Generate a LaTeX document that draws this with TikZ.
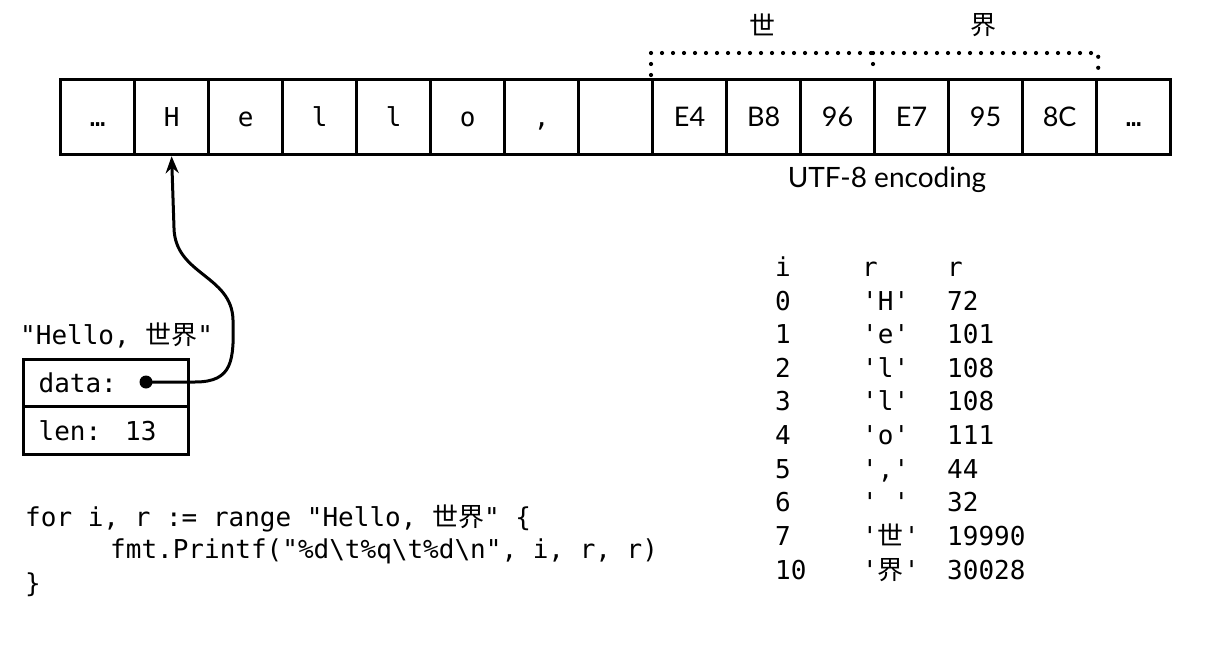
\documentclass[tikz,border=0pt]{standalone}
\usepackage{fontspec}
\setmainfont{Lato}
\newfontfamily\codefont{DejaVu Sans Mono}
\newfontfamily\cjk{Noto Sans CJK SC}
\usetikzlibrary{arrows.meta}
\begin{document}
\begin{tikzpicture}[x=1pt,y=-1pt,
  cell/.style={draw, line width=3.2pt, minimum width=74pt, minimum height=75pt,
    inner sep=0pt, anchor=north west, text height=19pt, text depth=0pt,
    font=\fontsize{27}{30}\selectfont},
  mcell/.style={cell, font=\codefont\fontsize{26}{30}\selectfont},
  code/.style={inner sep=0pt, anchor=west, text height=19pt, text depth=0pt,
    font=\codefont\fontsize{26}{30}\selectfont},
  field/.style={draw, line width=3.2pt, anchor=north west, minimum width=165pt,
    minimum height=47pt, text width=135pt, inner xsep=15pt, inner ysep=0pt,
    align=left, text height=19pt, text depth=0pt,
    font=\codefont\fontsize{26}{30}\selectfont},
  dotbr/.style={line width=4.2pt, line cap=round, dash pattern=on 0pt off 11pt},
  conn/.style={line width=3pt, -{Stealth[length=17pt,width=13pt]}},
  sans/.style={inner sep=0pt, text height=19pt, text depth=0pt,
    font=\fontsize{28}{30}\selectfont},
  han/.style={inner sep=0pt, font=\cjk\fontsize{26}{30}\selectfont}
]
\useasboundingbox (0,0) rectangle (1212,650);

% memory cells
\node[mcell] (c0)  at (59,78)   {…};
\node[mcell] (c1)  at (133,78)  {H};
\node[mcell] (c2)  at (207,78)  {e};
\node[mcell] (c3)  at (281,78)  {l};
\node[mcell] (c4)  at (355,78)  {l};
\node[mcell] (c5)  at (429,78)  {o};
\node[mcell] (c6)  at (503,78)  {,};
\node[mcell] (c7)  at (577,78)  {};
\node[cell]  (c8)  at (651,78)  {E4};
\node[cell]  (c9)  at (725,78)  {B8};
\node[cell]  (c10) at (799,78)  {96};
\node[cell]  (c11) at (873,78)  {E7};
\node[cell]  (c12) at (947,78)  {95};
\node[cell]  (c13) at (1021,78) {8C};
\node[mcell] (c14) at (1095,78) {…};

% dotted bracket over the UTF-8 bytes
\draw[dotbr] ([yshift=3pt]c8.north west) -- ([yshift=25pt]c8.north west)
  -- ([yshift=25pt]c13.north east) -- ([yshift=9pt]c13.north east);
\draw[dotbr] ([yshift=25pt]c11.north west) -- ([yshift=14pt]c11.north west);
\node[han] (shi) at (762,25) {世};
\node[han] (jie) at (983,25) {界};
\node[sans] (utf) at (887,178) {UTF-8 encoding};

% string header
\node[code] (lbl) at (20,335) {"Hello, {\cjk 世界}"};
\node[field] (data) at (22,358) {data:};
\node[field, minimum height=48pt] (len) at (22,405) {len:\hspace{24pt}13};
\node[circle, fill, inner sep=0pt, minimum size=13pt] (dot) at (146,382) {};
\draw[conn] (dot.center) -- (195,382)
  .. controls (233,382) and (234,360) .. (233,320)
  .. controls (232,275) and (175,275) .. (174,228) -- (c1.south);

% code
\node[code] (l1) at (25,517) {for i, r := range "Hello, {\cjk 世界}" \{};
\node[code] (l2) at (110,549) {fmt.Printf("\%d\textbackslash t\%q\textbackslash t\%d\textbackslash n", i, r, r)};
\node[code] (l3) at (25,583) {\}};

% output table
\node[code] (t0a) at (775,267) {i};   \node[code] (t0b) at (862,267) {r};      \node[code] (t0c) at (947,267) {r};
\node[code] (t1a) at (775,301) {0};   \node[code] (t1b) at (862,301) {'H'};    \node[code] (t1c) at (947,301) {72};
\node[code] (t2a) at (775,334) {1};   \node[code] (t2b) at (862,334) {'e'};    \node[code] (t2c) at (947,334) {101};
\node[code] (t3a) at (775,368) {2};   \node[code] (t3b) at (862,368) {'l'};    \node[code] (t3c) at (947,368) {108};
\node[code] (t4a) at (775,401) {3};   \node[code] (t4b) at (862,401) {'l'};    \node[code] (t4c) at (947,401) {108};
\node[code] (t5a) at (775,435) {4};   \node[code] (t5b) at (862,435) {'o'};    \node[code] (t5c) at (947,435) {111};
\node[code] (t6a) at (775,469) {5};   \node[code] (t6b) at (862,469) {','};    \node[code] (t6c) at (947,469) {44};
\node[code] (t7a) at (775,502) {6};   \node[code] (t7b) at (862,502) {'~'};    \node[code] (t7c) at (947,502) {32};
\node[code] (t8a) at (775,536) {7};   \node[code] (t8b) at (862,536) {'{\cjk 世}'}; \node[code] (t8c) at (947,536) {19990};
\node[code] (t9a) at (775,570) {10};  \node[code] (t9b) at (862,570) {'{\cjk 界}'}; \node[code] (t9c) at (947,570) {30028};
\end{tikzpicture}
\end{document}
